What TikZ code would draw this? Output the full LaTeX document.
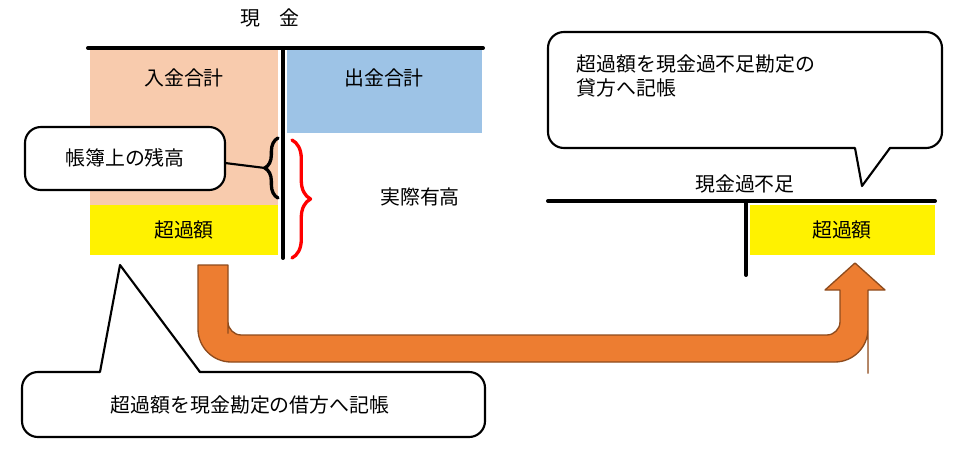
\documentclass[tikz,border=0pt]{standalone}
\usepackage{fontspec}
\setmainfont{Noto Sans CJK JP}
\usetikzlibrary{decorations.pathreplacing}
\definecolor{salmon}{HTML}{F8CBAD}
\definecolor{skyblue}{HTML}{9DC3E6}
\definecolor{arroworange}{HTML}{ED7D31}
\begin{document}
\begin{tikzpicture}[x=0.0265cm,y=-0.0265cm,line cap=round,line join=round,
  every node/.style={font=\fontsize{15}{18}\selectfont},
  callout/.style={draw,line width=1.6pt,rounded corners=12pt,fill=white}]
\useasboundingbox (0,0) rectangle (956,453);
% genkin T account
\node (ttl) at (270,18) {現\quad 金};
\fill[salmon] (90,50) rectangle (278,205);
\fill[yellow] (90,205) rectangle (278,255);
\fill[skyblue] (287,50) rectangle (482,133);
\node (nyu) at (184,78) {入金合計};
\node (shu) at (384,78) {出金合計};
\node (cho) at (184,230) {超過額};
\draw[line width=3pt] (88,48) -- (483,48);
\draw[line width=3pt] (283,48) -- (283,258);
% braces
\draw[red,line width=2.5pt,decoration={brace,amplitude=14pt},decorate] (292,140) -- (292,258);
\node (jit) at (420,197) {実際有高};
\draw[line width=2.5pt,decoration={brace,amplitude=10pt},decorate] (278,198) -- (278,138);
\coordinate (btip) at (265,168);
% kabusoku T account
\node (kft) at (745,184) {現金過不足};
\fill[yellow] (750,205) rectangle (935,255);
\node (cho2) at (842,230) {超過額};
\draw[line width=3pt] (548,201) -- (935,201);
\draw[line width=3pt] (746,201) -- (746,275);
% orange arrow
\draw[arroworange!60!black,fill=arroworange,line width=1pt,rounded corners=25]
  (198,265) -- (198,362) -- (868,362) -- (868,340) [sharp corners] -- (868,290)
  -- (885,290) -- (855,263) -- (825,290) -- (840,290) -- (840,320)
  [rounded corners=10] -- (840,335) -- (228,335) -- (228,320) [sharp corners] -- (228,265) -- cycle;
% callouts
\draw[callout] (25,127) rectangle (225,190);
\node (bo) at (125,158) {帳簿上の残高};
\draw[line width=1.6pt] (225,163) -- (btip);
\draw[callout] (548,32) rectangle (942,148);
\fill[white] (855,146) -- (890,146) -- (862,186) -- cycle;
\draw[line width=1.6pt] (855,148) -- (862,186) -- (890,148);
\node[align=left,anchor=north west] (kashi) at (572,50) {超過額を現金過不足勘定の\\貸方へ記帳};
\draw[callout] (22,372) rectangle (485,437);
\fill[white] (100,374) -- (200,374) -- (120,265) -- cycle;
\draw[line width=1.6pt] (100,372) -- (120,265) -- (200,372);
\node (kari) at (250,405) {超過額を現金勘定の借方へ記帳};
\end{tikzpicture}
\end{document}
